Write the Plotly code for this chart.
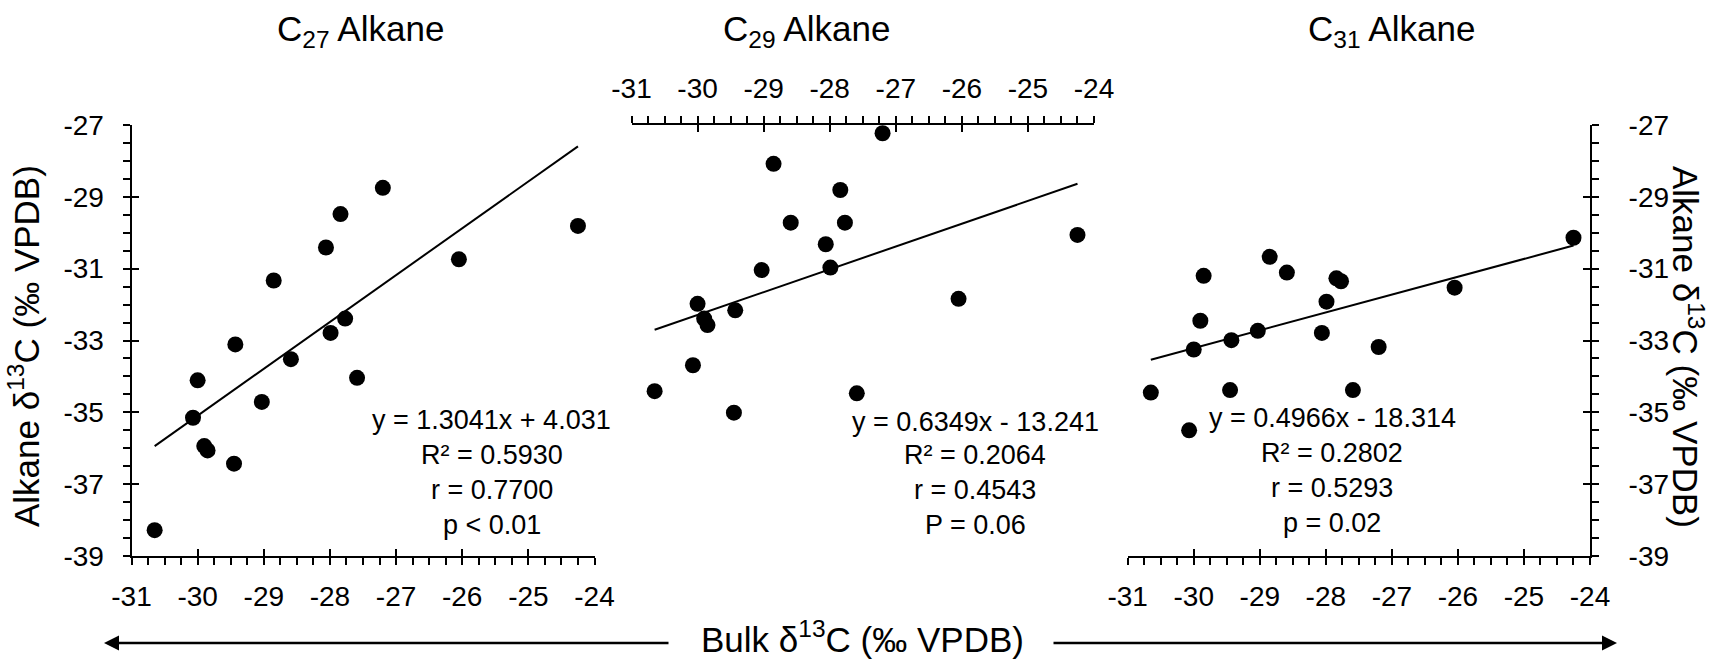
import plotly.graph_objects as go

# ---------------- data ----------------
bulk = [-30.65, -30.07, -30.00, -29.90, -29.85, -29.45, -29.43, -29.03, -28.85,
        -28.59, -28.06, -27.99, -27.84, -27.77, -27.59, -27.20, -26.05, -24.25]
c27 = [-38.28, -35.15, -34.11, -35.94, -36.06, -36.43, -33.11, -34.71, -31.33,
       -33.52, -30.41, -32.79, -29.48, -32.39, -34.04, -28.75, -30.74, -29.81]
c29 = [-34.41, -33.69, -31.98, -32.39, -32.57, -35.01, -32.16, -31.04, -28.08,
       -29.72, -30.32, -30.97, -28.81, -29.72, -34.47, -27.23, -31.84, -30.06]
c31 = [-34.45, -35.50, -33.25, -32.45, -31.20, -34.38, -32.99, -32.73, -30.67,
       -31.11, -32.79, -31.92, -31.27, -31.35, -34.38, -33.18, -31.53, -30.14]

titles = ["C<sub>27</sub> Alkane", "C<sub>29</sub> Alkane", "C<sub>31</sub> Alkane"]
slopes = [1.3041, 0.6349, 0.4966]
intercepts = [4.031, -13.241, -18.314]
stats = [
    ["y = 1.3041x + 4.031", "R² = 0.5930", "r = 0.7700", "p &lt; 0.01"],
    ["y = 0.6349x - 13.241", "R² = 0.2064", "r = 0.4543", "P = 0.06"],
    ["y = 0.4966x - 18.314", "R² = 0.2802", "r = 0.5293", "p = 0.02"],
]
x_ticks = [-31, -30, -29, -28, -27, -26, -25, -24]
x_ticktext = ["-31", "-30", "-29", "-28", "-27", "-26", "-25", "-24"]
y_ticks = [-39, -37, -35, -33, -31, -29, -27]
y_ticktext = ["-39", "-37", "-35", "-33", "-31", "-29", "-27"]

FONT = "Liberation Sans, Arial, sans-serif"
W, H = 1715, 661

def px_x(p):
    return p / W

def px_y(p):
    return 1 - p / H

x_domains = [[px_x(131.5), px_x(594.5)], [px_x(631.5), px_x(1094)], [px_x(1127.7), px_x(1590)]]
y_domain = [px_y(556), px_y(125)]

fig = go.Figure()
series = [c27, c29, c31]
for i, ys in enumerate(series):
    xa = "x" if i == 0 else f"x{i+1}"
    ya = "y" if i == 0 else f"y{i+1}"
    fig.add_trace(go.Scatter(x=bulk, y=ys, mode="markers", xaxis=xa, yaxis=ya,
                             marker=dict(size=16, color="black"), showlegend=False,
                             hoverinfo="skip"))
    x0, x1 = min(bulk), max(bulk)
    fig.add_trace(go.Scatter(x=[x0, x1], y=[slopes[i] * x0 + intercepts[i], slopes[i] * x1 + intercepts[i]],
                             mode="lines", xaxis=xa, yaxis=ya,
                             line=dict(color="black", width=2), showlegend=False, hoverinfo="skip"))

# dummy traces for the overlay (inside-tick) axes
for xa, ya in [("x4", "y"), ("x", "y4"), ("x5", "y2"), ("x6", "y3"), ("x3", "y5")]:
    fig.add_trace(go.Scatter(x=[None], y=[None], xaxis=xa, yaxis=ya, showlegend=False, hoverinfo="skip"))

TICK_SIZE = 28

def main_x(domain, anchor, side="bottom"):
    return dict(domain=domain, anchor=anchor, side=side, range=[-31, -24],
                tickmode="array", tickvals=x_ticks, ticktext=x_ticktext,
                ticks="outside", ticklen=7, tickwidth=2, tickcolor="black",
                ticklabelstandoff=7,
                tickfont=dict(family=FONT, size=TICK_SIZE, color="black"),
                minor=dict(tickmode="linear", tick0=-31, dtick=0.25, ticks="outside",
                           ticklen=7, tickwidth=2, tickcolor="black", showgrid=False),
                showline=True, linewidth=2, linecolor="black", automargin=False,
                showgrid=False, zeroline=False, fixedrange=True)

def main_y(domain, anchor, side="left", standoff=13):
    return dict(domain=domain, anchor=anchor, side=side, range=[-39, -27],
                tickmode="array", tickvals=y_ticks, ticktext=y_ticktext,
                ticks="outside", ticklen=7, tickwidth=2, tickcolor="black",
                ticklabelstandoff=standoff,
                tickfont=dict(family=FONT, size=TICK_SIZE, color="black"),
                minor=dict(tickmode="linear", tick0=-39, dtick=0.5, ticks="outside",
                           ticklen=7, tickwidth=2, tickcolor="black", showgrid=False),
                showline=True, linewidth=2, linecolor="black", automargin=False,
                showgrid=False, zeroline=False, fixedrange=True)

def over_x(over, anchor, side="bottom"):
    return dict(overlaying=over, anchor=anchor, side=side, range=[-31, -24],
                tickmode="array", tickvals=x_ticks, ticks="inside", ticklen=7,
                tickwidth=2, tickcolor="black", showticklabels=False, showline=False,
                showgrid=False, zeroline=False, fixedrange=True, automargin=False)

def over_y(over, anchor, side="left"):
    return dict(overlaying=over, anchor=anchor, side=side, range=[-39, -27],
                tickmode="array", tickvals=y_ticks, ticks="inside", ticklen=7,
                tickwidth=2, tickcolor="black", showticklabels=False, showline=False,
                showgrid=False, zeroline=False, fixedrange=True, automargin=False)

annotations = []
# panel titles
title_x = [360, 806, 1391]
for i, t in enumerate(titles):
    annotations.append(dict(text=t, xref="paper", yref="paper", x=px_x(title_x[i]), y=px_y(31),
                            xanchor="center", yanchor="middle", showarrow=False,
                            font=dict(family=FONT, size=35, color="black")))
# stats text: one annotation per line, in each panel's data coordinates
stat_x = [-25.55, -25.8, -27.9]
stat_line_y = [[-35.21, -36.19, -37.16, -38.14],
               [-35.26, -36.19, -37.16, -38.14],
               [-35.17, -36.14, -37.12, -38.09]]
for i, s in enumerate(stats):
    xa = "x" if i == 0 else f"x{i+1}"
    ya = "y" if i == 0 else f"y{i+1}"
    for j, line in enumerate(s):
        annotations.append(dict(text=line, xref=xa, yref=ya, x=stat_x[i], y=stat_line_y[i][j],
                                xanchor="center", yanchor="middle", align="center", showarrow=False,
                                font=dict(family=FONT, size=27, color="black")))
ytitle = "Alkane δ<sup>13</sup>C (‰ VPDB)"
annotations.append(dict(text=ytitle, xref="paper", yref="paper", x=px_x(24), y=px_y(346),
                        textangle=-90, xanchor="center", yanchor="middle", showarrow=False,
                        font=dict(family=FONT, size=35, color="black")))
annotations.append(dict(text=ytitle, xref="paper", yref="paper", x=px_x(1688), y=px_y(347),
                        textangle=90, xanchor="center", yanchor="middle", showarrow=False,
                        font=dict(family=FONT, size=35, color="black")))
annotations.append(dict(text="Bulk δ<sup>13</sup>C (‰ VPDB)", xref="paper", yref="paper",
                        x=px_x(862), y=px_y(637), xanchor="center", yanchor="middle", showarrow=False,
                        font=dict(family=FONT, size=35, color="black")))
# arrows
annotations.append(dict(text="", xref="paper", yref="paper", x=px_x(104), y=px_y(643),
                        ax=566, ay=0, showarrow=True, arrowhead=2, arrowsize=1.2,
                        arrowwidth=2.5, arrowcolor="black"))
annotations.append(dict(text="", xref="paper", yref="paper", x=px_x(1617), y=px_y(643),
                        ax=-565, ay=0, showarrow=True, arrowhead=2, arrowsize=1.2,
                        arrowwidth=2.5, arrowcolor="black"))

fig.update_layout(
    width=W, height=H, margin=dict(l=0, r=0, t=0, b=0, autoexpand=False),
    autosize=False,
    font=dict(family=FONT, size=TICK_SIZE, color="black"),
    paper_bgcolor="white", plot_bgcolor="rgba(0,0,0,0)",
    showlegend=False,
    xaxis=main_x(x_domains[0], "y"),
    yaxis=main_y(y_domain, "x"),
    xaxis2=main_x(x_domains[1], "y2", side="top"),
    yaxis2=dict(domain=y_domain, anchor="x2", range=[-39, -27], visible=False, fixedrange=True),
    xaxis3=main_x(x_domains[2], "y3"),
    yaxis3=main_y(y_domain, "x3", side="right", standoff=24),
    xaxis4=over_x("x", "y"),
    yaxis4=over_y("y", "x"),
    xaxis5=over_x("x2", "y2", side="top"),
    xaxis6=over_x("x3", "y3"),
    yaxis5=over_y("y3", "x3", side="right"),
    annotations=annotations,
)

fig.write_html("out.html")
